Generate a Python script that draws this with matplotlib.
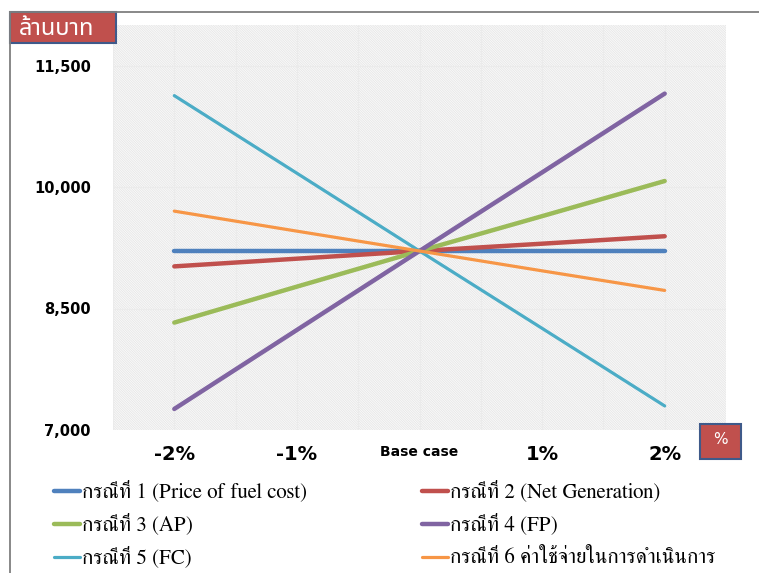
import matplotlib
matplotlib.use("Agg")
import matplotlib.pyplot as plt
from matplotlib.patches import Rectangle
from matplotlib.lines import Line2D
from matplotlib.ticker import FuncFormatter

# sensitivity of cost (million baht) to +/- changes of each parameter
steps = ['-2%', '-1%', 'Base case', '1%', '2%']
case1 = [9210, 9210, 9210, 9210, 9210]
case2 = [9020, 9115, 9210, 9300, 9392]
case3 = [8326, 8770, 9210, 9640, 10074]
case4 = [7260, 8235, 9210, 10180, 11153]
case5 = [11128, 10170, 9210, 8255, 7297]
case6 = [9702, 9455, 9210, 8965, 8723]

names = ['กรณีที่ 1 (Price of fuel cost)', 'กรณีที่ 2 (Net Generation)',
         'กรณีที่ 3 (AP)', 'กรณีที่ 4 (FP)',
         'กรณีที่ 5 (FC)', 'กรณีที่ 6 ค่าใช้จ่ายในการดำเนินการ']
colors = ['#4F81BD', '#C0504D', '#9BBB59', '#8064A2', '#4BACC6', '#F79646']
widths = [3.2, 3.2, 3.2, 3.2, 2.3, 2.3]

thai_serif = ['FreeSerif', 'Noto Serif Thai', 'Liberation Serif', 'DejaVu Serif']
thai_sans = ['Noto Sans Thai', 'Sarabun', 'DejaVu Sans']

plt.rcParams['hatch.linewidth'] = 0.5
W, H = 759, 573
fig = plt.figure(figsize=(W / 100, H / 100), dpi=100)
ax = fig.add_axes([113 / W, 1 - 430 / H, (726 - 113) / W, (430 - 25) / H])

# striped plot background
ax.set_facecolor('white')
ax.add_patch(Rectangle((0, 0), 1, 1, transform=ax.transAxes, facecolor='#f9f9f9',
                       edgecolor='#e4e4e4', hatch='\\' * 14, linewidth=0, zorder=0))

x = list(range(len(steps)))
lines = []
for ys, c, lw in zip([case1, case2, case3, case4, case5, case6], colors, widths):
    ln, = ax.plot(x, ys, color=c, lw=lw, solid_capstyle='round', zorder=3)
    lines.append(ln)

ax.set_xlim(-0.5, 4.5)
ax.set_ylim(7000, 12000)
ax.set_yticks([7000, 8500, 10000, 11500])
ax.yaxis.set_major_formatter(FuncFormatter(lambda v, p: f'{v:,.0f}'))
ax.set_xticks(x)
ax.set_xticklabels(steps)
for i, lab in enumerate(ax.get_xticklabels()):
    lab.set_fontweight('bold')
    lab.set_fontsize(10 if i == 2 else 14)
for lab in ax.get_yticklabels():
    lab.set_fontweight('bold')
    lab.set_fontsize(10.5)
ax.tick_params(axis='y', length=0, pad=16)
ax.tick_params(axis='x', length=0, pad=11)

# faint grid
for gx in [i * 0.5 - 0.5 for i in range(11)]:
    ax.axvline(gx, color='#ebebeb', lw=0.8, zorder=1)
for gy in [8500, 10000, 11500]:
    ax.axhline(gy, color='#ebebeb', lw=0.8, zorder=1)
for s in ax.spines.values():
    s.set_visible(False)

# frame lines on the top and left of the figure
fig.add_artist(Line2D([10 / W, 1], [1 - 12 / H, 1 - 12 / H], color='#7f7f7f', lw=1.3))
fig.add_artist(Line2D([10 / W, 10 / W], [0, 1 - 12 / H], color='#7f7f7f', lw=1.3))

# unit boxes
fig.add_artist(Rectangle((10 / W, 1 - 43 / H), 106 / W, 31 / H, facecolor='#C0504D',
                         edgecolor='#3F5A8A', lw=1.5))
fig.text(19 / W, 1 - 29 / H, 'ล้านบาท', color='white', fontsize=17,
         family=thai_sans, va='center', ha='left')
fig.add_artist(Rectangle((700 / W, 1 - 459 / H), 41 / W, 35 / H, facecolor='#C0504D',
                         edgecolor='#3F5A8A', lw=1.5))
fig.text(720 / W, 1 - 440 / H, '%', color='white', fontsize=11,
         va='center', ha='center')

# legend, laid out row by row in two columns
for k, (ln, name) in enumerate(zip(lines, names)):
    x0 = 54 if k % 2 == 0 else 422
    yrow = 491 + 33 * (k // 2)
    fig.add_artist(Line2D([x0 / W, (x0 + 26) / W], [1 - yrow / H, 1 - yrow / H],
                          color=ln.get_color(), lw=ln.get_linewidth(),
                          solid_capstyle='round'))
    fig.text((x0 + 28) / W, 1 - (yrow + 6) / H, name, family=thai_serif,
             fontsize=15, va='baseline', ha='left')

fig.savefig('out.png', dpi=100)
